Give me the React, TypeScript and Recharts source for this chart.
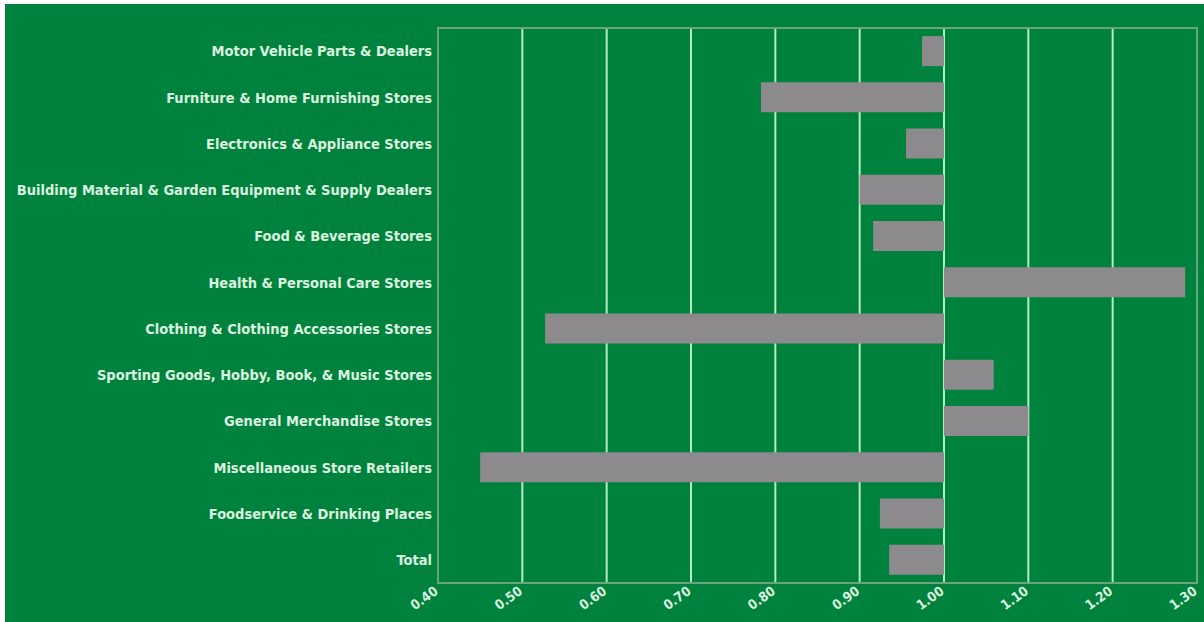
import React from "react";
import { BarChart, Bar, XAxis, YAxis, CartesianGrid, ReferenceArea } from "recharts";

const categories = [
  "Motor Vehicle Parts & Dealers",
  "Furniture & Home Furnishing Stores",
  "Electronics & Appliance Stores",
  "Building Material & Garden Equipment & Supply Dealers",
  "Food & Beverage Stores",
  "Health & Personal Care Stores",
  "Clothing & Clothing Accessories Stores",
  "Sporting Goods, Hobby, Book, & Music Stores",
  "General Merchandise Stores",
  "Miscellaneous Store Retailers",
  "Foodservice & Drinking Places",
  "Total",
];

const ratios = [0.974, 0.783, 0.955, 0.9, 0.916, 1.286, 0.527, 1.059, 1.1, 0.45, 0.924, 0.935];

const xTicks = [0.4, 0.5, 0.6, 0.7, 0.8, 0.9, 1.0, 1.1, 1.2, 1.3];

const BASE = 1.0;

const data = categories.map((name, i) => ({
  name,
  range: [Math.min(BASE, ratios[i]), Math.max(BASE, ratios[i])],
}));

const TEXT = "#dcf3df";
const FONT = "'DejaVu Sans Condensed', 'DejaVu Sans', sans-serif";

const XTick = (props: any) => {
  const { x, y, payload } = props;
  return (
    <g transform={`translate(${x + 1},${y + 2})`}>
      <text
        textAnchor="end"
        transform="rotate(-36)"
        fill={TEXT}
        fontFamily={FONT}
        fontWeight="bold"
        fontSize={13.5}
      >
        {Number(payload.value).toFixed(2)}
      </text>
    </g>
  );
};

export default function App() {
  return (
    <div style={{ position: "fixed", left: 0, top: 0, width: 1204, height: 622, background: "#fff" }}>
      <div style={{ position: "absolute", left: 5, top: 4, width: 1199, height: 618, background: "#00823f" }}>
        <BarChart
          width={1199}
          height={618}
          data={data}
          layout="vertical"
          margin={{ top: 24, right: 7, left: 0, bottom: 0 }}
          barCategoryGap="17.5%"
        >
          <CartesianGrid horizontal={false} stroke="#b4ecc2" strokeWidth={2} />
          <ReferenceArea x1={0.4} x2={1.3} fill="none" stroke="#6aa47c" strokeWidth={2} ifOverflow="visible" />
          <XAxis
            type="number"
            domain={[0.4, 1.3]}
            ticks={xTicks}
            interval={0}
            axisLine={false}
            tickLine={false}
            height={39}
            tick={<XTick />}
          />
          <YAxis
            type="category"
            dataKey="name"
            width={433}
            interval={0}
            axisLine={false}
            tickLine={false}
            tickMargin={0}
            tick={{ fill: TEXT, fontFamily: FONT, fontWeight: "bold", fontSize: 14.5 }}
          />
          <Bar dataKey="range" fill="#8c8a8c" isAnimationActive={false} />
        </BarChart>
      </div>
    </div>
  );
}
